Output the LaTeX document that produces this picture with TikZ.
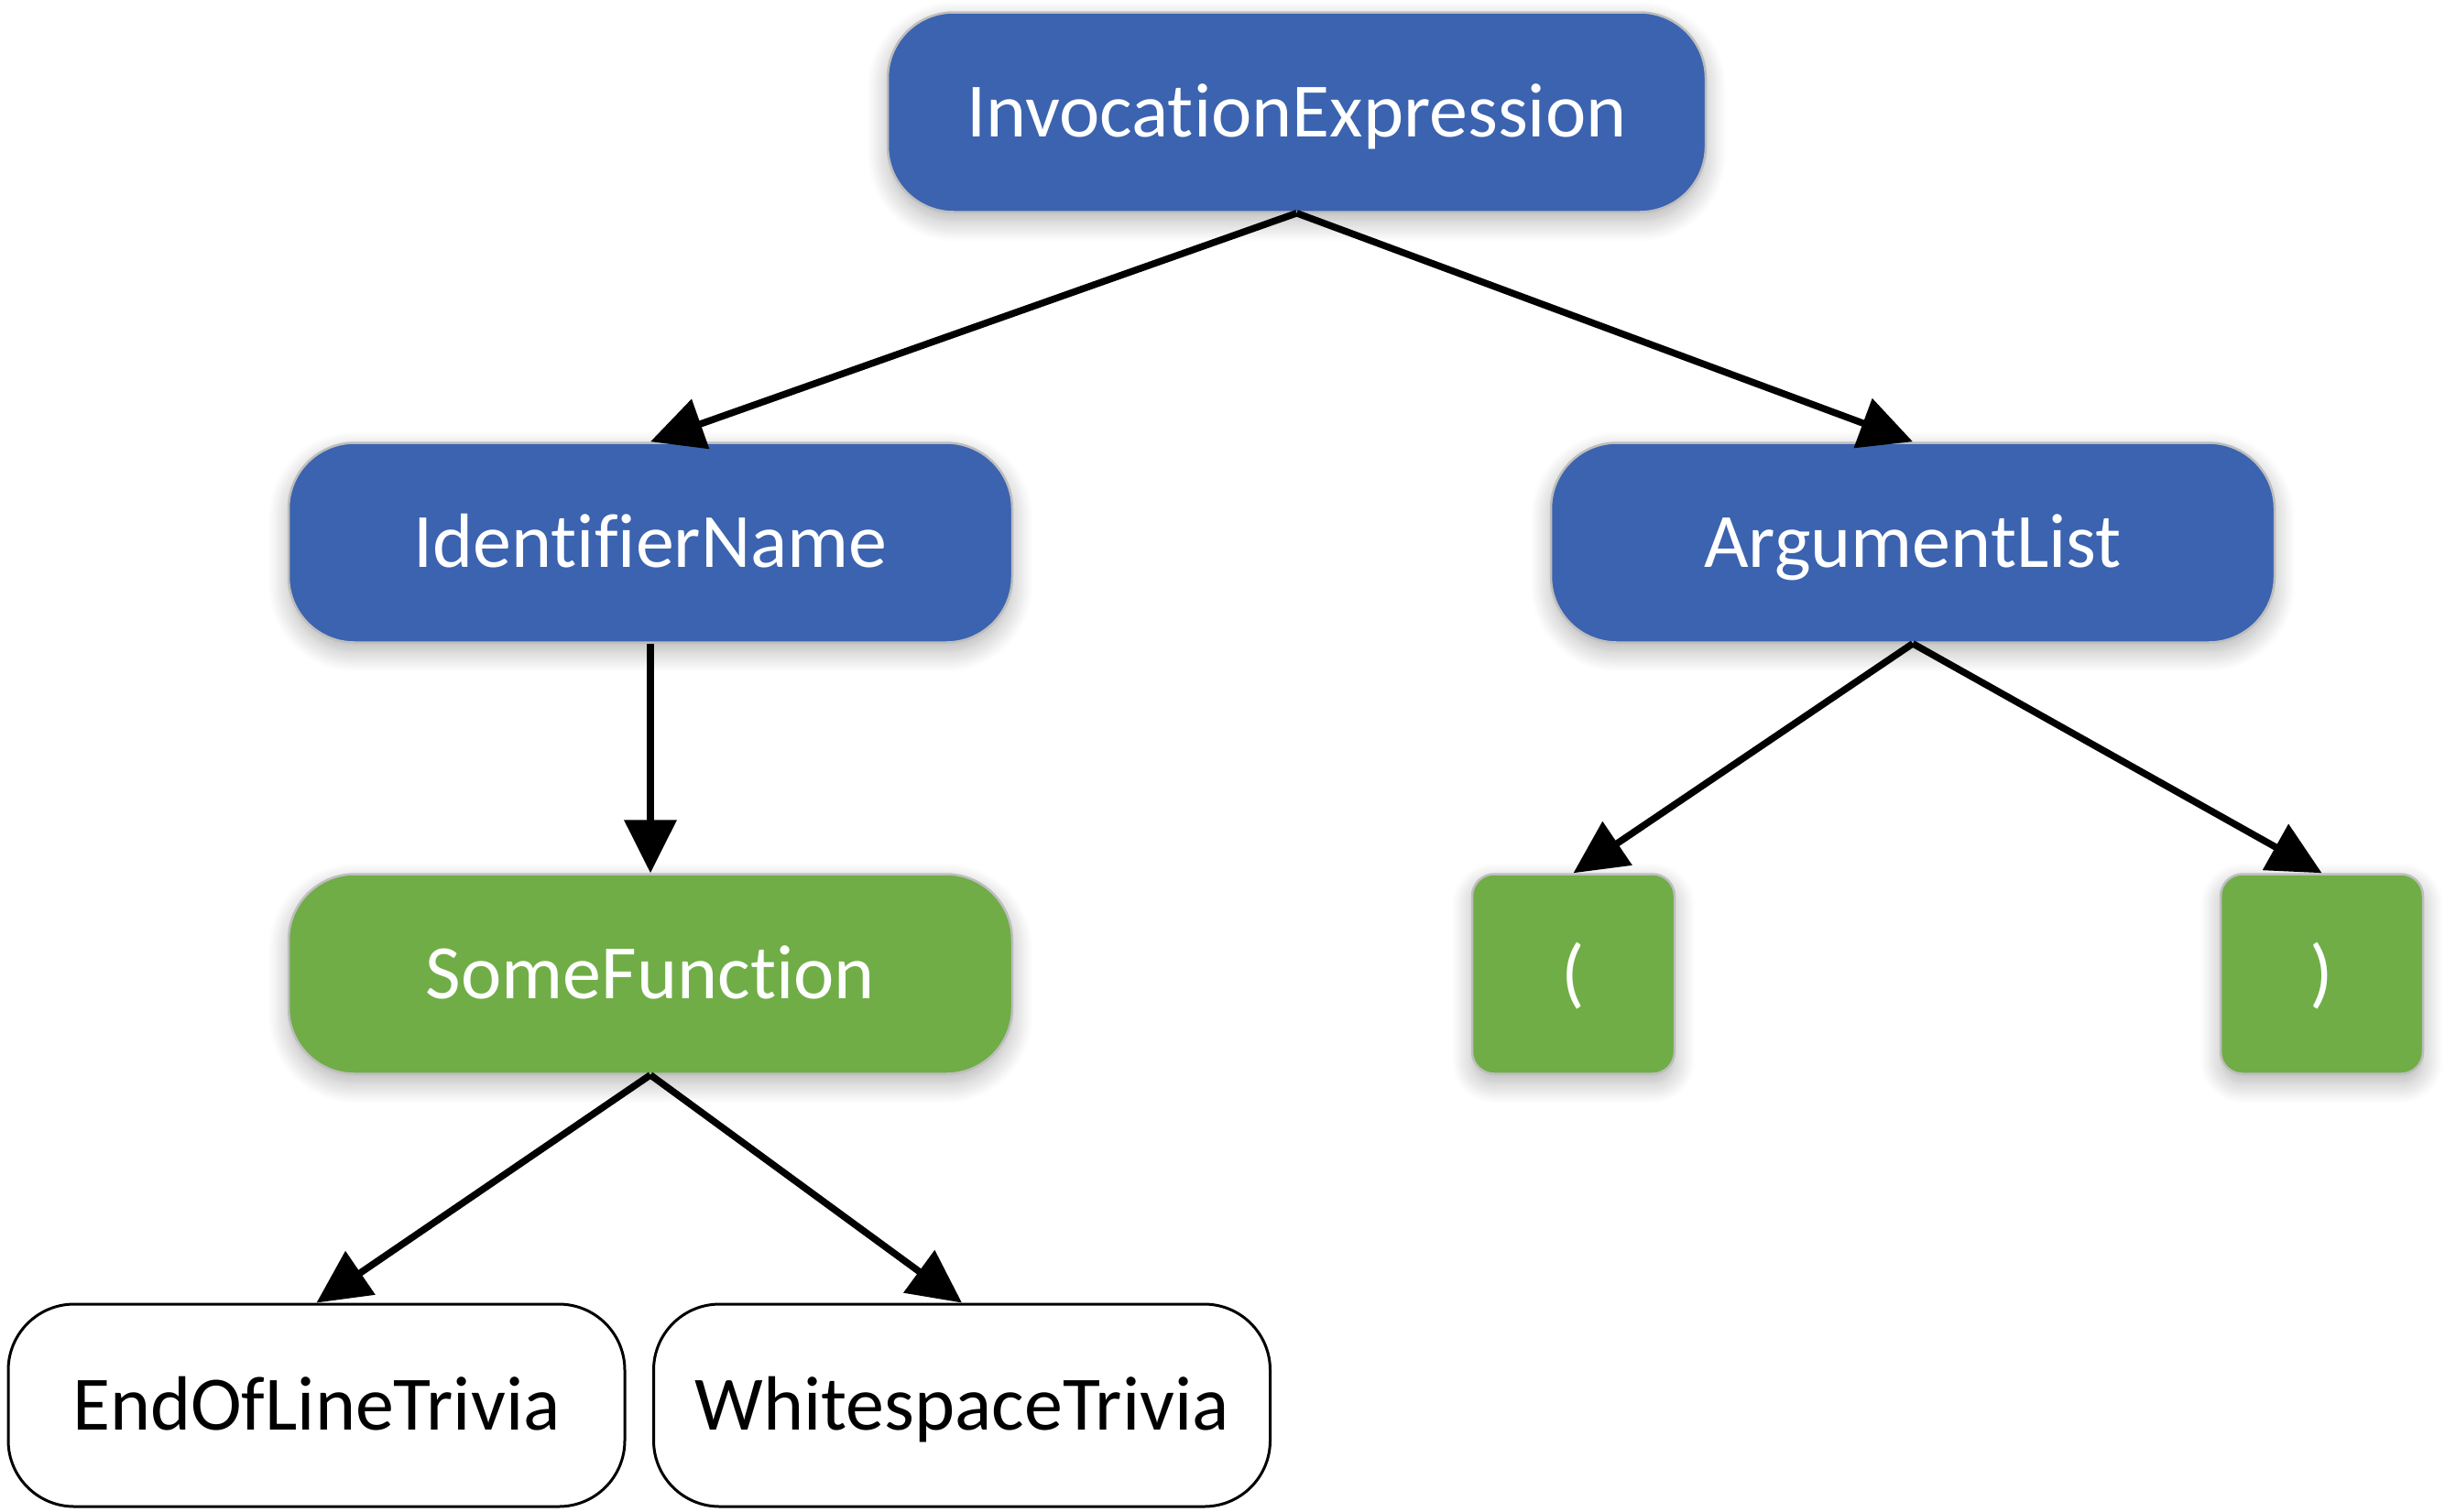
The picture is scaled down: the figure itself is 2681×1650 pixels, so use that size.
\documentclass[tikz,border=0pt]{standalone}
\usepackage{fontspec}
\setmainfont[Ligatures={NoCommon,NoContextual},RawFeature={-liga;-clig;-dlig}]{Carlito}
\usetikzlibrary{arrows.meta,shadows.blur}
\definecolor{nblue}{RGB}{59,99,175}
\definecolor{ngreen}{RGB}{112,173,71}
\definecolor{nedge}{RGB}{190,190,190}
\definecolor{nshadow}{RGB}{120,160,225}
\tikzset{
  base/.style={rounded corners=72pt, inner sep=0pt, minimum height=218pt,
    text height=66pt, text depth=12pt,
    font=\fontsize{84}{100}\selectfont},
  soft/.style={blur shadow={shadow xshift=0pt, shadow yshift=-10pt,
    shadow blur radius=22pt, shadow opacity=30, shadow blur steps=12},
    every shadow/.append style={fill=nshadow}},
  bluebox/.style={base, soft, fill=nblue, draw=nedge, line width=2.5pt, text=white, minimum width=790pt},
  greenbox/.style={base, soft, fill=ngreen, draw=nedge, line width=2.5pt, text=white, minimum width=790pt},
  tokbox/.style={base, soft, rounded corners=24pt, fill=ngreen, draw=nedge, line width=2.5pt, text=white, minimum width=221pt},
  trivbox/.style={base, fill=white, draw=black, line width=3pt, text=black, minimum width=673pt, minimum height=221pt},
  conn/.style={line width=7.5pt, -{Triangle[length=58pt,width=56pt]}},
}
\begin{document}
\begin{tikzpicture}[x=1pt,y=-1pt]
\useasboundingbox (0,0) rectangle (2681,1650);
\node[bluebox, minimum width=893pt] (inv) at (1415.5,122.5) {InvocationExpression};
\node[bluebox] (idn) at (710,592.5) {IdentifierName};
\node[bluebox] (arg) at (2088,592.5) {ArgumentList};
\node[greenbox] (some) at (710,1063.5) {SomeFunction};
\node[tokbox] (lp) at (1717.5,1063.5) {(};
\node[tokbox] (rp) at (2534.5,1063.5) {)};
\node[trivbox] (eol) at (345.5,1534.5) {EndOfLineTrivia};
\node[trivbox] (ws) at (1050,1534.5) {WhitespaceTrivia};
\draw[conn] (inv.south) -- (idn.north);
\draw[conn] (inv.south) -- (arg.north);
\draw[conn] (idn.south) -- (some.north);
\draw[conn] (arg.south) -- (lp.north);
\draw[conn] (arg.south) -- (rp.north);
\draw[conn] (some.south) -- (eol.north);
\draw[conn] (some.south) -- (ws.north);
\end{tikzpicture}
\end{document}
